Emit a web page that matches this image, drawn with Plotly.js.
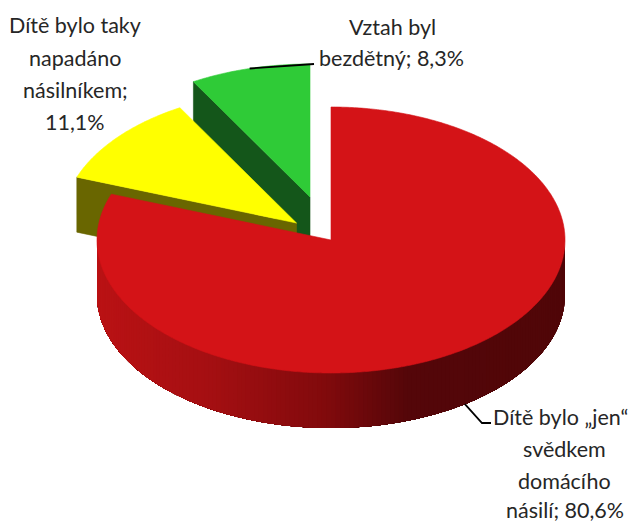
<!DOCTYPE html>
<html><head><meta charset="utf-8">
<script src="https://cdn.plot.ly/plotly-3.0.1.min.js"></script>
<style>html,body{margin:0;padding:0;background:#fff;overflow:hidden}</style>
</head><body><div id="chart" style="width:635px;height:523px"></div>
<script>
// Data
const categories = ['Dítě bylo „jen“ svědkem domácího násilí', 'Dítě bylo taky napadáno násilníkem', 'Vztah byl bezdětný'];
const shares = [80.6, 11.1, 8.3];
const labelLines = [
  ['Dítě bylo „jen“', 'svědkem', 'domácího', 'násilí; 80,6%'],
  ['Dítě bylo taky', 'napadáno', 'násilníkem;', '11,1%'],
  ['Vztah byl', 'bezdětný; 8,3%']
];
// Styles and layout geometry
const topColors = ['#d41317', '#ffff00', '#2fcb37'];
const cutColors = ['#6e0b0b', '#696600', '#14561a'];
const apexes = [[331, 240], [296.5, 223], [310, 197]];
const rx = 234, ry = 133, depth = 55;
const labelX = [[560, 564, 564, 565], [75, 75, 75, 75], [392, 391]];
const labelY = [[417, 449, 481, 510], [25, 58, 90, 122], [27, 58]];
const leaderEnds = [[[482, 423], [491, 423]], null, [[307, 64], [314, 64]]];
const wallStops = [[97, [186, 18, 20]], [210, [165, 15, 18]], [330, [128, 10, 12]], [410, [84, 6, 9]], [565, [80, 6, 8]]];

const total = shares.reduce((a, b) => a + b, 0);
const rad = p => p / total * 2 * Math.PI;
const pt = (c, a, dy = 0) => [c[0] + rx * Math.sin(a), c[1] - ry * Math.cos(a) + dy];
const poly = (pts, color, w = 0.6) => ({
  type: 'scatter', mode: 'lines', x: pts.map(p => p[0]), y: pts.map(p => p[1]),
  fill: 'toself', fillcolor: color, line: {color: color, width: w, simplify: false},
  hoverinfo: 'skip', showlegend: false
});
function arc(c, a0, a1, dy = 0) {
  const n = Math.max(2, Math.ceil(Math.abs(a1 - a0) / 0.01)), out = [];
  for (let i = 0; i <= n; i++) out.push(pt(c, a0 + (a1 - a0) * i / n, dy));
  return out;
}
function wallColor(x) {
  for (let i = 1; i < wallStops.length; i++) {
    if (x <= wallStops[i][0]) {
      const [x0, c0] = wallStops[i - 1], [x1, c1] = wallStops[i];
      const t = Math.max(0, (x - x0) / (x1 - x0));
      return 'rgb(' + c0.map((v, k) => Math.round(v + (c1[k] - v) * t)).join(',') + ')';
    }
  }
  return 'rgb(' + wallStops[wallStops.length - 1][1].join(',') + ')';
}
// slice angle ranges, clockwise from 12 o'clock
let acc = 0;
const ranges = shares.map(s => { const r = [rad(acc), rad(acc + s)]; acc += s; return r; });

const traces = [];
// back to front: green, yellow, red
[2, 1, 0].forEach(i => {
  const c = apexes[i], [a0, a1] = ranges[i];
  if (i === 0) {
    // curved outer wall: each layer repaints from its angle to the wall's far end
    const end = 3 * Math.PI / 2;
    const bands = 160;
    for (let k = 0; k < bands; k++) {
      const a = Math.PI / 2 + k * (end - Math.PI / 2) / bands;
      const top = arc(c, a, end), bot = arc(c, end, a, depth);
      traces.push(poly(top.concat(bot).concat([top[0]]), wallColor(pt(c, a)[0]), 0));
    }
  } else {
    const e = pt(c, a0);
    traces.push(poly([c, e, [e[0], e[1] + depth], [c[0], c[1] + depth], c], cutColors[i]));
  }
  traces.push(poly([c].concat(arc(c, a0, a1)).concat([c]), topColors[i]));
});
// leader lines start at the slice's mid angle on its rim
[0, 2].forEach(i => {
  const mid = (ranges[i][0] + ranges[i][1]) / 2;
  const s = pt(apexes[i], mid, i === 0 ? depth : 0);
  const pts = [s].concat(leaderEnds[i]);
  traces.push({type: 'scatter', mode: 'lines', x: pts.map(p => p[0]), y: pts.map(p => p[1]),
    line: {color: '#000', width: 1.8}, hoverinfo: 'skip', showlegend: false});
});

const annotations = [];
labelLines.forEach((lines, i) => lines.forEach((t, j) => annotations.push({
  text: t, x: labelX[i][j], y: labelY[i][j], xref: 'x', yref: 'y', showarrow: false,
  xanchor: 'center', yanchor: 'middle', font: {family: 'Lato, Carlito, sans-serif', size: 21.5, color: '#262626'}
})));

Plotly.newPlot('chart', traces, {
  width: 635, height: 523, margin: {l: 0, r: 0, t: 0, b: 0},
  paper_bgcolor: '#fff', plot_bgcolor: '#fff', showlegend: false,
  xaxis: {range: [0, 635], visible: false, fixedrange: true},
  yaxis: {range: [523, 0], visible: false, fixedrange: true},
  annotations: annotations
}, {displayModeBar: false, staticPlot: true});
</script></body></html>
